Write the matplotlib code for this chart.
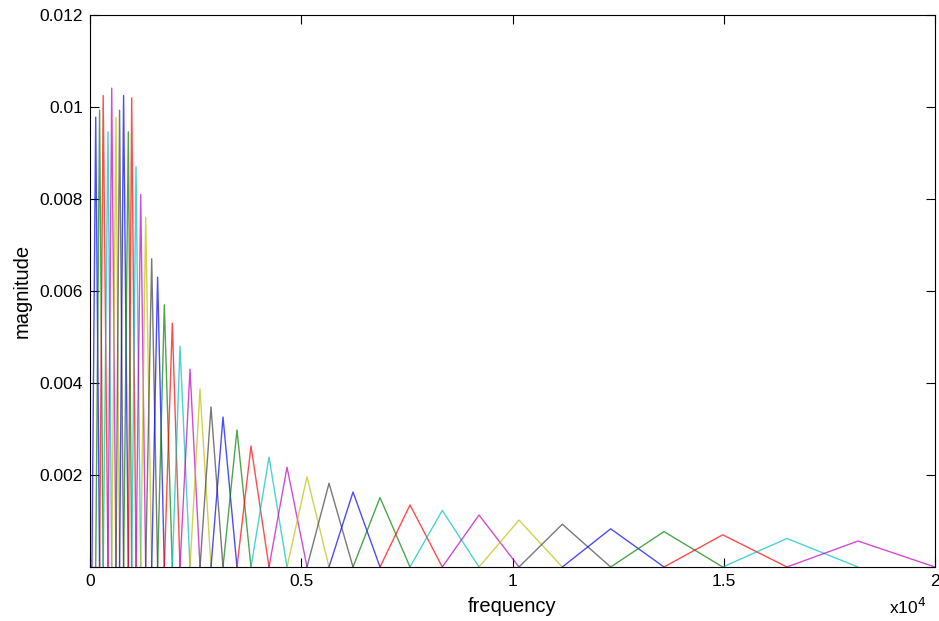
import numpy as np
import matplotlib
matplotlib.use("Agg")
import matplotlib.pyplot as plt

# filter centre frequencies (Hz) and peak heights
centers = [135, 227, 312, 426, 514, 615, 700, 795, 907, 987,
           1089, 1200, 1318, 1460, 1600, 1759, 1948, 2130, 2367, 2604,
           2864, 3148, 3479, 3811, 4237, 4663, 5136, 5657, 6225, 6864,
           7574, 8338, 9207, 10154, 11179, 12324, 13586, 14975, 16497, 18178]
peaks = [0.00978, 0.00993, 0.01025, 0.00946, 0.01041, 0.00977, 0.00993, 0.01025, 0.00946, 0.0102,
         0.0087, 0.0081, 0.0076, 0.0067, 0.0063, 0.0057, 0.0053, 0.0048, 0.0043, 0.00387,
         0.00348, 0.00326, 0.00298, 0.00263, 0.00239, 0.00217, 0.00196, 0.00182, 0.00163, 0.00151,
         0.00135, 0.00123, 0.00113, 0.00102, 0.00093, 0.00083, 0.00077, 0.0007, 0.00062, 0.000565]
low_edge = 45
high_edge = 20000

xtick_vals = [0, 5000, 10000, 15000, 20000]
xtick_labels = ['0', '0.5', '1', '1.5', '2']
ytick_vals = [0, 0.002, 0.004, 0.006, 0.008, 0.010, 0.012]
ytick_labels = ['', '0.002', '0.004', '0.006', '0.008', '0.01', '0.012']

# old MATLAB line colour order
colors = [(0, 0, 1), (0, 0.5, 0), (1, 0, 0), (0, 0.75, 0.75),
          (0.75, 0, 0.75), (0.75, 0.75, 0), (0.25, 0.25, 0.25)]

plt.rcParams['font.family'] = ['Liberation Sans', 'DejaVu Sans']

fig = plt.figure(figsize=(9.39, 6.21), dpi=100)
ax = fig.add_axes([90 / 939, 1 - 567 / 621, 845 / 939, 552 / 621])

edges = [low_edge] + centers + [high_edge]
for i in range(len(centers)):
    ax.plot([edges[i], edges[i + 1], edges[i + 2]], [0, peaks[i], 0],
            color=colors[i % len(colors)], lw=1.0, alpha=0.7)

ax.set_xlim(0, 20000)
ax.set_ylim(0, 0.012)
ax.set_xticks(xtick_vals)
ax.set_xticklabels(xtick_labels)
ax.set_yticks(ytick_vals)
ax.set_yticklabels(ytick_labels)
ax.tick_params(direction='in', top=True, right=True, length=6.5, width=0.8,
               labelsize=12.5, pad=5)
for s in ax.spines.values():
    s.set_linewidth(0.8)

ax.set_xlabel('frequency', fontsize=14.5, labelpad=6)
ax.set_ylabel('magnitude', fontsize=14.5, labelpad=6)
ax.text(0.967, -0.073, 'x10$^4$', transform=ax.transAxes, fontsize=12.5,
        ha='center', va='center')

fig.savefig('out.png', dpi=100)
